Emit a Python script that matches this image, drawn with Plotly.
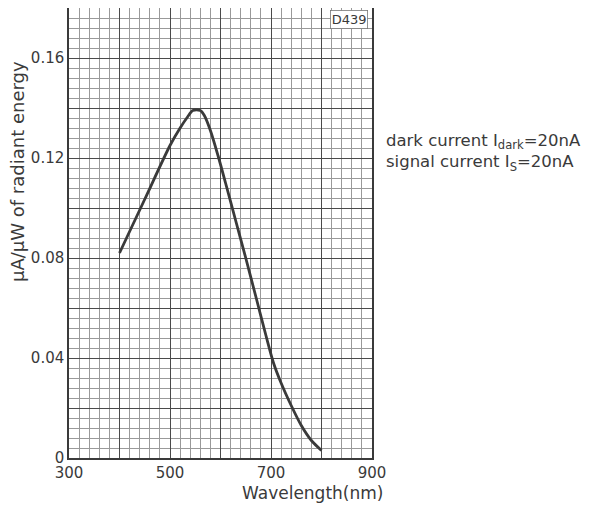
import plotly.graph_objects as go

wavelength = [400, 450, 500, 520, 535, 545, 560, 568, 580, 595, 610, 630, 650, 672, 690, 705, 720, 740, 760, 780, 800]
sensitivity = [0.082, 0.1035, 0.125, 0.132, 0.1365, 0.139, 0.139, 0.137, 0.131, 0.121, 0.110, 0.095, 0.080, 0.063, 0.049, 0.038, 0.030, 0.021, 0.013, 0.007, 0.003]

x_tickvals = [300, 400, 500, 600, 700, 800, 900]
x_ticktext = ["300", "", "500", "", "700", "", "900"]
y_tickvals = [0, 0.02, 0.04, 0.06, 0.08, 0.10, 0.12, 0.14, 0.16, 0.18]
y_ticktext = ["0", "", "0.04", "", "0.08", "", "0.12", "", "0.16", ""]

FONT = "DejaVu Sans"
TXT = "#3a3a3a"

# the page body adds an 8 px offset; the figure is sized to fit the window
OFF = 8
W, H = 595 - OFF, 506 - OFF
L, R, T, B = 69 - OFF, 223, 0, 48
pw, ph = W - L - R, H - T - B


def px_to_paper(px, py):
    return (px - OFF - L) / pw, 1 - (py - OFF - T) / ph


fig = go.Figure()
fig.add_trace(go.Scatter(
    x=wavelength, y=sensitivity, mode="lines",
    line=dict(color="#3a3a3a", width=2.8, shape="spline", smoothing=0.8),
    showlegend=False, hoverinfo="skip",
))

fig.update_layout(
    width=W, height=H,
    margin=dict(l=L, r=R, t=T, b=B, pad=0),
    paper_bgcolor="white", plot_bgcolor="white",
    font=dict(family=FONT, color=TXT, size=15),
    xaxis=dict(
        range=[300, 900], tickvals=x_tickvals, ticktext=x_ticktext,
        showgrid=True, gridcolor="#4a4a4a", gridwidth=1.2,
        minor=dict(dtick=20, showgrid=True, gridcolor="#999999", gridwidth=0.8),
        showline=True, linecolor="#3a3a3a", linewidth=1.5, mirror=True,
        ticks="", zeroline=False, tickfont=dict(size=15, color=TXT),
        automargin=False,
    ),
    yaxis=dict(
        range=[0, 0.18], tickvals=y_tickvals, ticktext=y_ticktext,
        showgrid=True, gridcolor="#4a4a4a", gridwidth=1.2,
        minor=dict(dtick=0.004, showgrid=True, gridcolor="#999999", gridwidth=0.8),
        showline=True, linecolor="#3a3a3a", linewidth=1.5, mirror=True,
        ticks="", zeroline=False, tickfont=dict(size=15, color=TXT),
        automargin=False,
    ),
)

x, y = px_to_paper(17, 172)
fig.add_annotation(
    x=x, y=y, xref="paper", yref="paper", text="μA/μW of radiant energy",
    showarrow=False, textangle=-90, font=dict(size=18, color=TXT),
    xanchor="center", yanchor="middle",
)
x, y = px_to_paper(312, 493)
fig.add_annotation(
    x=x, y=y, xref="paper", yref="paper", text="Wavelength(nm)",
    showarrow=False, font=dict(size=17, color=TXT),
    xanchor="center", yanchor="middle",
)
fig.add_annotation(
    x=1, y=1, xref="paper", yref="paper", xanchor="right", yanchor="top",
    text="D439", showarrow=False, font=dict(size=13, color=TXT),
    bgcolor="white", bordercolor="#777", borderwidth=0.8, borderpad=1,
    xshift=-4, yshift=-2,
)
x, y = px_to_paper(384, 153)
fig.add_annotation(
    x=x, y=y, xref="paper", yref="paper", xanchor="left", yanchor="middle",
    text="dark current I<sub>dark</sub>=20nA<br>signal current I<sub>S</sub>=20nA",
    align="left", showarrow=False, font=dict(size=16.5, color=TXT),
)

fig.write_html("out.html")
